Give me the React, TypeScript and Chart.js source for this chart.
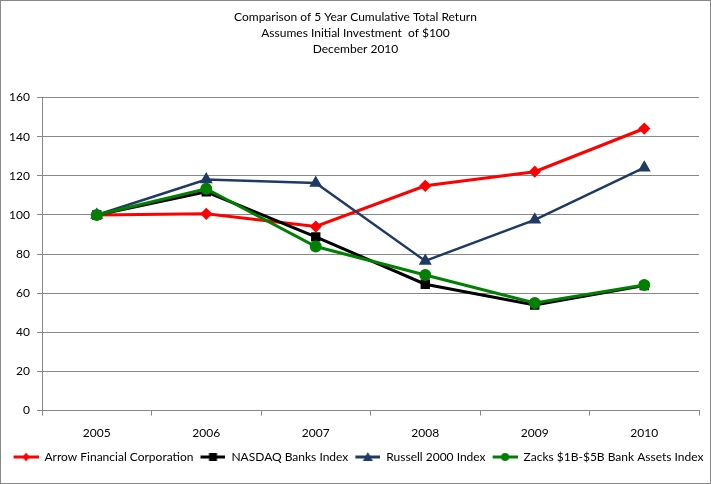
import React, { useEffect, useRef } from "react";
import { Chart, registerables } from "chart.js";

Chart.register(...registerables);

const years = ["2005", "2006", "2007", "2008", "2009", "2010"];
const arrowFinancial = [100, 100.6, 94.1, 114.9, 122.1, 144.2];
const nasdaqBanks = [100, 111.8, 88.8, 64.6, 54.0, 63.9];
const russell2000 = [100, 118.1, 116.3, 76.5, 97.5, 124.2];
const zacksBanks = [100, 113.4, 83.9, 69.3, 55.0, 64.2];
const yTicks = [0, 20, 40, 60, 80, 100, 120, 140, 160];
const titleLines = [
  "Comparison of 5 Year Cumulative Total Return",
  "Assumes Initial Investment  of $100",
  "December 2010",
];

const FONT = "Lato, 'Open Sans', sans-serif";
const GAP = 6;
const LINE_W = 25;
const ICON_W = GAP + LINE_W;

function legendIcon(color: string, style: string): HTMLCanvasElement {
  const c = document.createElement("canvas");
  c.width = ICON_W;
  c.height = 12;
  const ctx = c.getContext("2d")!;
  ctx.strokeStyle = color;
  ctx.fillStyle = color;
  ctx.lineWidth = 3;
  ctx.beginPath();
  ctx.moveTo(GAP, 6);
  ctx.lineTo(ICON_W, 6);
  ctx.stroke();
  ctx.beginPath();
  const cx = GAP + LINE_W / 2, cy = 6;
  if (style === "rectRot") {
    ctx.moveTo(cx, cy - 4.5);
    ctx.lineTo(cx + 3.5, cy);
    ctx.lineTo(cx, cy + 4.5);
    ctx.lineTo(cx - 3.5, cy);
  } else if (style === "rect") {
    ctx.rect(cx - 4, cy - 4, 8, 8);
  } else if (style === "triangle") {
    ctx.moveTo(cx, cy - 5);
    ctx.lineTo(cx + 5, cy + 4);
    ctx.lineTo(cx - 5, cy + 4);
  } else {
    ctx.arc(cx, cy, 4, 0, Math.PI * 2);
  }
  ctx.closePath();
  ctx.fill();
  return c;
}

export default function App() {
  const ref = useRef<HTMLCanvasElement>(null);

  useEffect(() => {
    document.body.style.margin = "0";
    const series = [
      { label: "Arrow Financial Corporation", data: arrowFinancial, color: "#FF0000", style: "rectRot", radius: 4, order: 3, width: 3 },
      { label: "NASDAQ Banks Index", data: nasdaqBanks, color: "#000000", style: "rect", radius: 4.5, order: 2, width: 3 },
      { label: "Russell 2000 Index", data: russell2000, color: "#1F3A63", style: "triangle", radius: 5, order: 1, width: 2.5 },
      { label: "Zacks $1B-$5B Bank Assets Index", data: zacksBanks, color: "#008000", style: "circle", radius: 4.5, order: 0, width: 3 },
    ];
    const icons = series.map((s) => legendIcon(s.color, s.style));

    const chart = new Chart(ref.current!, {
      type: "line",
      data: {
        labels: years,
        datasets: series.map((s) => ({
          label: s.label,
          data: s.data,
          borderColor: s.color,
          backgroundColor: s.color,
          pointBackgroundColor: s.color,
          pointBorderColor: s.color,
          pointStyle: s.style as any,
          pointRadius: s.radius,
          borderWidth: s.width,
          order: s.order,
          tension: 0,
        })),
      },
      options: {
        animation: false,
        responsive: false,
        devicePixelRatio: 1,
        layout: { padding: { left: 0, right: 0, top: 0, bottom: 10 } },
        plugins: {
          title: {
            display: true,
            text: titleLines,
            color: "#000",
            font: { family: FONT, size: 12, weight: "normal", lineHeight: 1.35 },
            padding: { top: 8, bottom: 40 },
          },
          legend: {
            position: "bottom",
            align: "center",
            labels: {
              color: "#000",
              font: { family: FONT, size: 12 },
              usePointStyle: true,
              pointStyleWidth: ICON_W,
              padding: 1,
              boxHeight: 12,
              generateLabels: () =>
                series.map((s, i) => ({
                  text: s.label,
                  fillStyle: s.color,
                  strokeStyle: s.color,
                  lineWidth: 0,
                  pointStyle: icons[i],
                  hidden: false,
                  datasetIndex: i,
                  fontColor: "#000",
                })),
            },
          },
          tooltip: { enabled: false },
        },
        scales: {
          x: {
            offset: true,
            grid: {
              display: true,
              offset: true,
              drawOnChartArea: false,
              drawTicks: true,
              tickLength: 5,
              color: "#888",
            },
            border: { display: true, color: "#888" },
            ticks: { color: "#000", font: { family: FONT, size: 12 }, padding: 10 },
          },
          y: {
            min: 0,
            max: 160,
            afterBuildTicks: (s: any) => {
              s.ticks = yTicks.map((v) => ({ value: v }));
            },
            afterFit: (s: any) => {
              s.width = 41;
            },
            grid: { color: "#888", tickLength: 5, lineWidth: 1 },
            border: { display: true, color: "#888" },
            ticks: { color: "#000", font: { family: FONT, size: 12 }, padding: 7 },
          },
          spacer: {
            type: "linear",
            position: "right",
            display: true,
            grid: { display: false, drawTicks: false },
            border: { display: false },
            ticks: { display: false },
            afterFit: (s: any) => {
              s.width = 11;
            },
          },
        },
      },
    });
    return () => chart.destroy();
  }, []);

  return (
    <div
      style={{
        position: "absolute",
        left: 0,
        top: 0,
        width: 711,
        height: 484,
        boxSizing: "border-box",
        border: "1px solid #888",
        background: "#fff",
      }}
    >
      <canvas ref={ref} width={709} height={482} style={{ display: "block" }} />
    </div>
  );
}
